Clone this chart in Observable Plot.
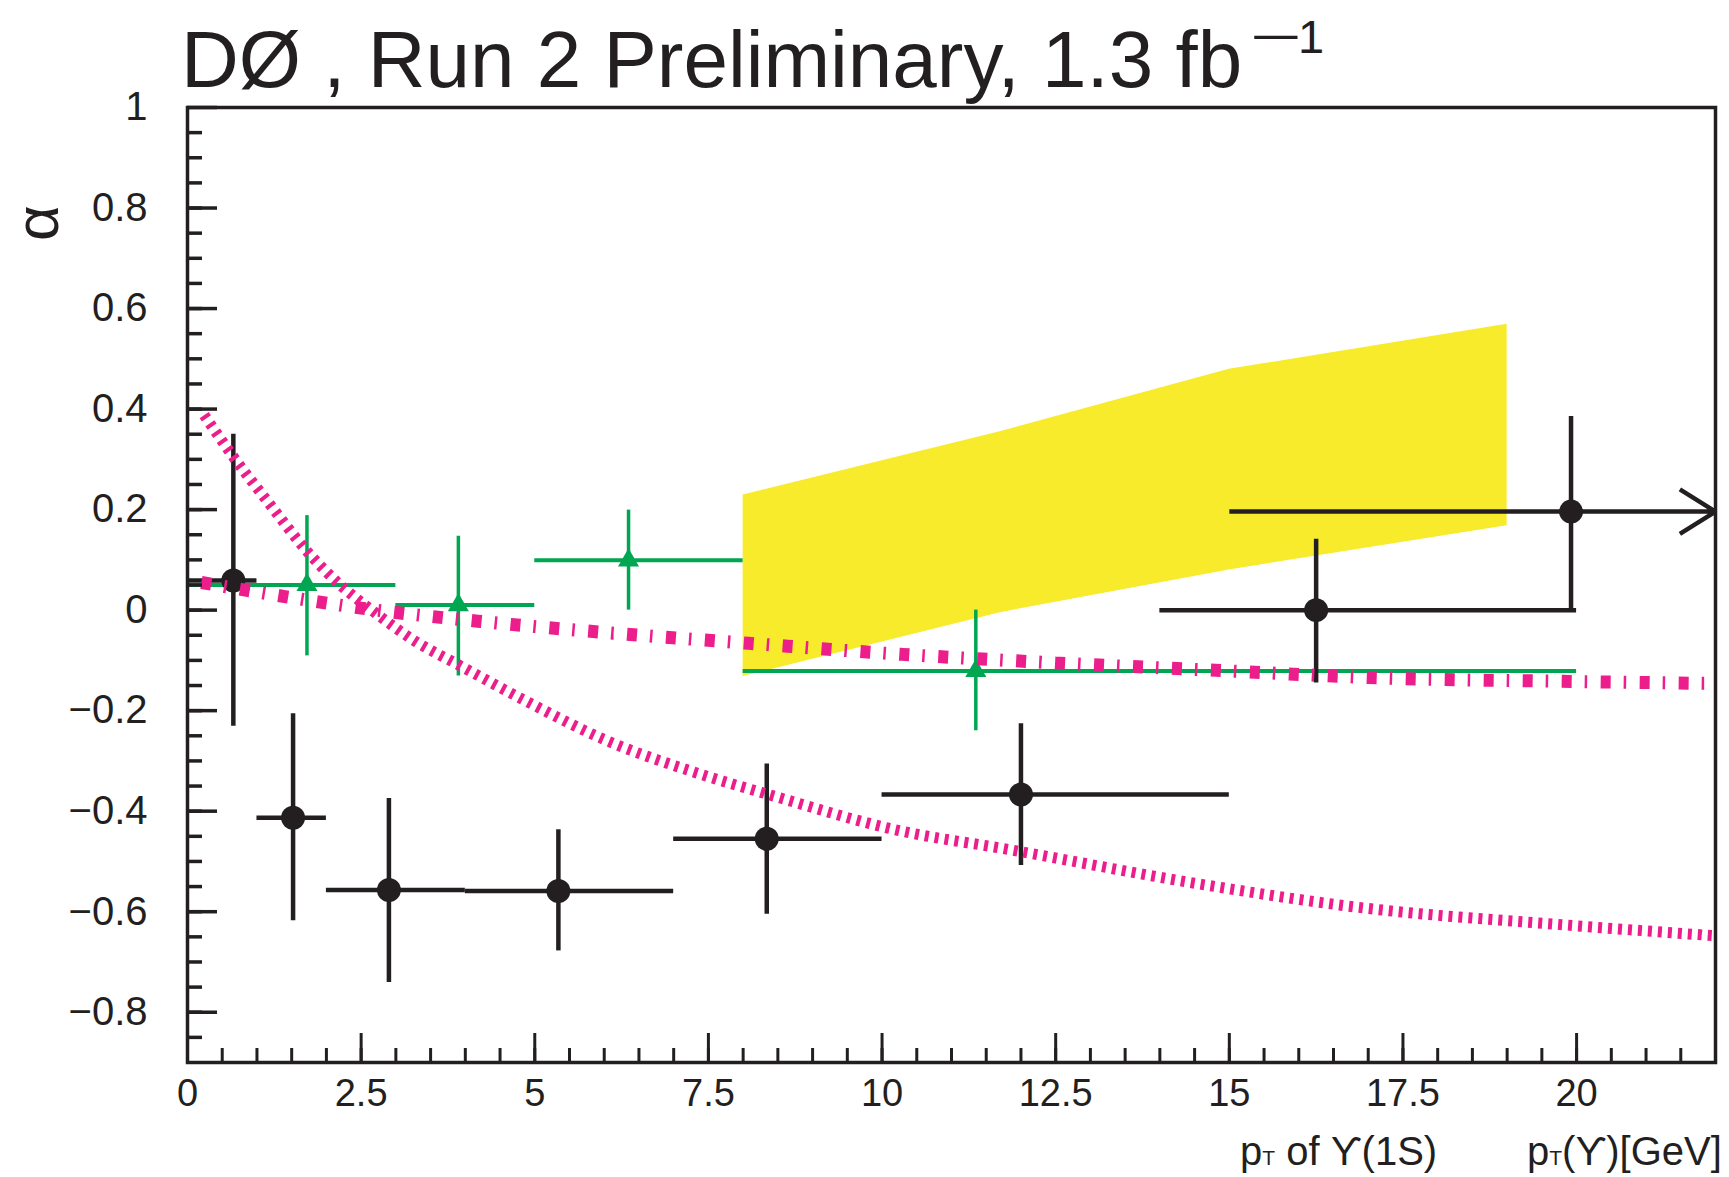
<!DOCTYPE html>
<html><head><meta charset="utf-8">
<script src="https://cdn.jsdelivr.net/npm/d3@7"></script>
<script src="https://cdn.jsdelivr.net/npm/@observablehq/plot@0.6"></script>
<style>
html,body{margin:0;padding:0;background:#fff;}
#chart{width:1729px;height:1177px;}
</style></head><body><div id="chart"></div>
<script>
// ---- data ----
// D0 Run 2 points: pT of Upsilon (black circles)
const blackX    = [0.66, 1.52, 2.90, 5.34, 8.34, 12.0, 16.25, 19.92];
const blackY    = [0.059, -0.413, -0.557, -0.559, -0.455, -0.367, 0.0, 0.196];
const blackXLo  = [0, 1, 2, 4, 7, 10, 14, 15];
const blackXHi  = [1, 2, 4, 7, 10, 15, 20, 22];
const blackYLo  = [-0.231, -0.618, -0.741, -0.678, -0.605, -0.508, -0.145, 0.0];
const blackYHi  = [0.350, -0.206, -0.375, -0.437, -0.306, -0.226, 0.141, 0.385];
// pT of Upsilon(1S) (green triangles)
const greenX    = [1.72, 3.90, 6.35, 11.35];
const greenY    = [0.050, 0.010, 0.099, -0.121];
const greenXLo  = [0, 3, 5, 8];
const greenXHi  = [3, 5, 8, 20];
const greenYLo  = [-0.091, -0.131, 0.000, -0.240];
const greenYHi  = [0.188, 0.147, 0.199, 0.000];
// yellow theory band
const bandX     = [8, 11.7, 15, 19];
const bandLo    = [-0.132, -0.005, 0.080, 0.168];
const bandHi    = [0.229, 0.355, 0.479, 0.569];
// magenta curves
const curveAX   = [0.24, 0.66, 1.2, 1.69, 2.16, 2.7, 3.28, 3.89, 5.0, 5.96, 7.4, 8.37, 10.29, 11.73, 14.62, 16.78, 20, 22];
const curveAY   = [0.388, 0.305, 0.208, 0.122, 0.055, -0.005, -0.062, -0.108, -0.19, -0.255, -0.327, -0.367, -0.44, -0.474, -0.546, -0.59, -0.628, -0.648];
const curveBX   = [0.2, 1.4, 2.5, 4.18, 6.15, 8.08, 10.29, 12.5, 15, 17, 20, 22];
const curveBY   = [0.055, 0.027, 0.004, -0.022, -0.046, -0.066, -0.088, -0.105, -0.121, -0.134, -0.142, -0.146];
// axis ticks
const xMajor = [0, 2.5, 5, 7.5, 10, 12.5, 15, 17.5, 20];
const yMajor = [-0.8, -0.6, -0.4, -0.2, 0, 0.2, 0.4, 0.6, 0.8, 1];
const xMinor = d3.range(0, 22.01, 0.5).map(v => +v.toFixed(2));
const yMinor = d3.range(-0.85, 1.0, 0.05).map(v => +v.toFixed(2));

// ---- layout / style ----
const W = 1729, H = 1177, mL = 187, mR = 14, mT = 107, mB = 115;
const PW = W - mL - mR, PH = H - mT - mB;
const BLACK = "#231f20", GREEN = "#00a651", MAGENTA = "#ec1e8c", YELLOW = "#f7eb2c";

const black = blackX.map((x, i) => ({x, y: blackY[i], x1: blackXLo[i], x2: blackXHi[i], y1: blackYLo[i], y2: blackYHi[i]}));
const blackClosed = black.slice(0, 7);
const blackOpen = black.slice(7);
const green = greenX.map((x, i) => ({x, y: greenY[i], x1: greenXLo[i], x2: greenXHi[i], y1: greenYLo[i], y2: greenYHi[i]}));
const band = bandX.map((x, i) => ({x, lo: bandLo[i], hi: bandHi[i]}));
const curveA = curveAX.map((x, i) => ({x, y: curveAY[i]}));
const curveB = curveBX.map((x, i) => ({x, y: curveBY[i]}));

const fmt = d => (d < 0 ? "\u2212" : "") + Math.abs(d);

const svg = Plot.plot({
  width: W, height: H,
  marginLeft: mL, marginRight: mR, marginTop: mT, marginBottom: mB,
  style: {fontFamily: "'Liberation Sans', Arial, Helvetica, sans-serif", background: "#fff", color: BLACK},
  x: {domain: [0, 22]},
  y: {domain: [-0.9, 1]},
  marks: [
    Plot.areaY(band, {x: "x", y1: "lo", y2: "hi", fill: YELLOW}),
    Plot.ruleY(green, {y: "y", x1: "x1", x2: "x2", stroke: GREEN, strokeWidth: 4}),
    Plot.ruleX(green, {x: "x", y1: "y1", y2: "y2", stroke: GREEN, strokeWidth: 3.5}),
    Plot.dot(green, {x: "x", y: "y", symbol: "triangle", r: 7.8, fill: GREEN}),
    Plot.ruleY(blackClosed, {y: "y", x1: "x1", x2: "x2", stroke: BLACK, strokeWidth: 4.5}),
    Plot.arrow(blackOpen, {x1: "x1", x2: "x2", y1: "y", y2: "y", stroke: BLACK, strokeWidth: 4.5, headLength: 14, headAngle: 64, strokeLinecap: "butt"}),
    Plot.ruleX(black, {x: "x", y1: "y1", y2: "y2", stroke: BLACK, strokeWidth: 4.5}),
    Plot.dot(black, {x: "x", y: "y", r: 12, fill: BLACK}),
    Plot.line(curveB, {x: "x", y: "y", stroke: MAGENTA, strokeWidth: 13, strokeDasharray: "10,13,2.5,13.5", curve: "monotone-x", strokeLinecap: "butt"}),
    Plot.line(curveA, {x: "x", y: "y", stroke: MAGENTA, strokeWidth: 11, strokeDasharray: "4,6", curve: "monotone-x", strokeLinecap: "butt"}),
    // inward ticks
    Plot.tickY(yMinor, {y: d => d, insetRight: PW - 15, stroke: BLACK, strokeWidth: 3.5}),
    Plot.tickY(yMajor, {y: d => d, insetRight: PW - 30, stroke: BLACK, strokeWidth: 3.5}),
    Plot.tickX(xMinor, {x: d => d, insetTop: PH - 14, stroke: BLACK, strokeWidth: 3}),
    Plot.tickX(xMajor, {x: d => d, insetTop: PH - 29, stroke: BLACK, strokeWidth: 3}),
    Plot.frame({stroke: BLACK, strokeWidth: 3.5}),
    Plot.axisY({ticks: yMajor, tickSize: 0, tickPadding: 40, fontSize: 40, tickFormat: fmt, label: null}),
    Plot.axisX({ticks: xMajor, tickSize: 0, tickPadding: 17, fontSize: 38, tickFormat: fmt, label: null})
  ]
});
document.getElementById("chart").append(svg);

// ---- title and axis titles (real text) ----
const s = d3.select(svg);
const FF = "'Liberation Sans', Arial, Helvetica, sans-serif";
const t = (x, y, size) => s.append("text").attr("x", x).attr("y", y).attr("font-size", size)
  .attr("font-family", FF).attr("fill", BLACK).attr("text-anchor", "start");
t(181, 87, 80).text("D\u00D8 , Run 2 Preliminary, 1.3 fb");
t(1250, 53, 47).attr("textLength", 52).attr("lengthAdjust", "spacingAndGlyphs").text("\u2212");
t(1298, 53, 47).text("1");

s.append("text").attr("transform", "translate(39,223) rotate(-90)").attr("text-anchor", "middle")
  .attr("dy", "0.3em").attr("font-size", 62).attr("font-family", FF).attr("fill", BLACK).text("\u03B1");

const l1 = t(1240, 1165, 40);
l1.append("tspan").text("p");
l1.append("tspan").attr("font-size", 21).text("T");
l1.append("tspan").text(" of \u03D2(1S)");
const l2 = t(1527, 1165, 40);
l2.append("tspan").text("p");
l2.append("tspan").attr("font-size", 21).text("T");
l2.append("tspan").text("(\u03D2)[GeV]");
</script>
</body></html>
